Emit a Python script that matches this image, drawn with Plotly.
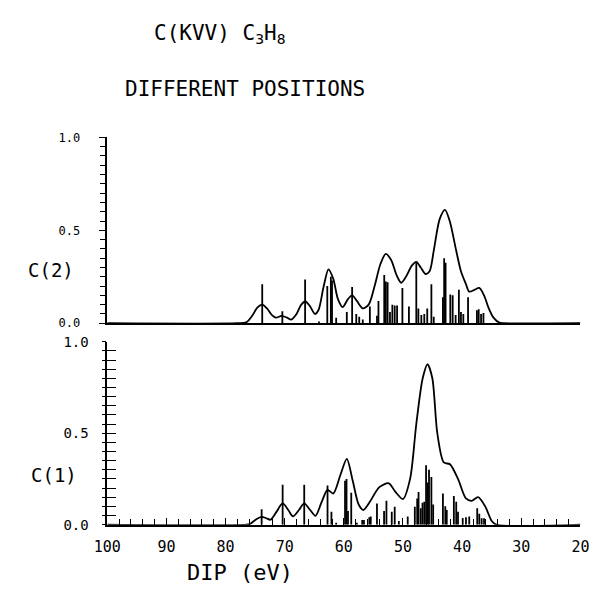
import plotly.graph_objects as go

# ---------------- data ----------------
# upper panel C(2): stick positions (eV) and heights
c2_stick_x = [73.8, 70.4, 66.55, 64.2, 62.8, 62.2, 62.0, 61.3, 59.5, 58.6, 57.9, 57.4, 56.8,
              55.6, 54.4, 54.15, 53.17, 52.9, 52.6, 52.2, 51.8, 51.4, 51.0, 50.1, 49.0,
              47.75, 47.4, 46.9, 46.4, 45.9, 45.2, 44.8, 43.25, 43.04, 42.8, 42.0, 41.6,
              41.1, 40.55, 40.2, 39.8, 39.0, 37.5, 37.2, 36.8, 36.4]
c2_stick_y = [0.21, 0.065, 0.235, 0.01, 0.20, 0.25, 0.23, 0.03, 0.06, 0.195, 0.05, 0.035, 0.02,
              0.09, 0.04, 0.12, 0.26, 0.225, 0.22, 0.06, 0.10, 0.095, 0.095, 0.19, 0.09,
              0.33, 0.08, 0.045, 0.05, 0.08, 0.21, 0.035, 0.14, 0.35, 0.325, 0.155, 0.15,
              0.045, 0.18, 0.06, 0.05, 0.14, 0.07, 0.075, 0.05, 0.055]
# upper panel broadened envelope
c2_env_x = [100, 78, 76.5, 75.5, 74.6, 73.8, 73.0, 72.2, 71.5, 70.5, 69.6, 68.9, 68.0, 67.2,
            66.5, 65.7, 64.9, 64.3, 63.4, 62.6, 61.8, 61.0, 60.2, 59.3, 58.6, 57.8, 56.8,
            55.8, 54.8, 53.8, 52.9, 52.0, 51.1, 50.3, 49.5, 48.5, 47.75, 47.0, 46.2, 45.5,
            44.8, 43.8, 42.9, 42.1, 41.0, 40.2, 39.35, 38.8, 37.9, 37.1, 36.3, 35.5, 34.7,
            33.7, 33.0, 20]
c2_env_y = [0, 0, 0.005, 0.04, 0.085, 0.10, 0.08, 0.045, 0.03, 0.04, 0.03, 0.02, 0.05, 0.10,
            0.117, 0.09, 0.05, 0.07, 0.20, 0.29, 0.24, 0.13, 0.087, 0.13, 0.15, 0.12, 0.08,
            0.10, 0.20, 0.32, 0.373, 0.34, 0.26, 0.218, 0.25, 0.31, 0.33, 0.30, 0.265, 0.28,
            0.39, 0.56, 0.61, 0.55, 0.39, 0.28, 0.21, 0.17, 0.18, 0.19, 0.15, 0.08, 0.03,
            0.003, 0, 0]

# lower panel C(1): stick positions (eV) and heights
c1_stick_x = [73.9, 70.35, 66.7, 62.76, 62.1, 61.3, 59.8, 59.55, 59.3, 58.75, 57.8, 56.9,
              56.6, 55.7, 55.45, 54.4, 53.2, 52.8, 51.9, 51.4, 50.7, 49.2, 48.0, 47.6,
              47.37, 47.0, 46.7, 46.4, 46.1, 45.8, 45.6, 45.2, 44.9, 43.25, 42.85, 42.6,
              41.4, 41.0, 40.7, 39.9, 39.35, 38.8, 37.45, 37.1, 36.7, 36.3]
c1_stick_y = [0.084, 0.218, 0.218, 0.214, 0.07, 0.01, 0.24, 0.25, 0.075, 0.175, 0.01, 0.025,
              0.025, 0.04, 0.045, 0.116, 0.075, 0.13, 0.07, 0.098, 0.02, 0.045, 0.098, 0.143,
              0.178, 0.09, 0.12, 0.125, 0.325, 0.23, 0.30, 0.26, 0.11, 0.17, 0.10, 0.08,
              0.157, 0.125, 0.07, 0.035, 0.04, 0.045, 0.09, 0.06, 0.035, 0.035]
# lower panel broadened envelope
c1_env_x = [100, 76.5, 75.8, 74.8, 73.9, 73.1, 72.4, 71.4, 70.35, 69.4, 68.6, 67.6, 66.7,
            65.7, 64.8, 63.8, 62.76, 61.8, 60.6, 59.5, 58.5, 57.5, 56.7, 55.6, 54.0, 52.4,
            51.3, 50.0, 48.8, 47.75, 46.67, 45.85, 45.04, 44.2, 43.1, 42.06, 40.7, 39.35,
            38.4, 37.3, 36.1, 35.0, 34.2, 20]
c1_env_y = [0, 0, 0.005, 0.03, 0.043, 0.035, 0.027, 0.07, 0.116, 0.08, 0.045, 0.08, 0.116,
            0.08, 0.048, 0.12, 0.19, 0.17, 0.27, 0.36, 0.24, 0.11, 0.08, 0.125, 0.205, 0.226,
            0.18, 0.14, 0.25, 0.55, 0.80, 0.877, 0.80, 0.50, 0.34, 0.33, 0.25, 0.143,
            0.13, 0.15, 0.10, 0.02, 0, 0]

x_tick_vals = [100, 90, 80, 70, 60, 50, 40, 30, 20]
x_tick_text = ["100", "90", "80", "70", "60", "50", "40", "30", "20"]
y_tick_vals = [0.0, 0.5, 1.0]
y_tick_text = ["0.0", "0.5", "1.0"]


def sticks(xs, ys):
    sx, sy = [], []
    for x, y in zip(xs, ys):
        sx += [x, x, None]
        sy += [0, y, None]
    return sx, sy


FONT = "DejaVu Sans Mono"
fig = go.Figure()

for xs, ys, ex, ey, xa, ya in [
    (c2_stick_x, c2_stick_y, c2_env_x, c2_env_y, "x", "y"),
    (c1_stick_x, c1_stick_y, c1_env_x, c1_env_y, "x2", "y2"),
]:
    sx, sy = sticks(xs, ys)
    fig.add_trace(go.Scatter(x=sx, y=sy, mode="lines", xaxis=xa, yaxis=ya,
                             line=dict(color="black", width=1.8), showlegend=False,
                             hoverinfo="skip"))
    fig.add_trace(go.Scatter(x=ex, y=ey, mode="lines", xaxis=xa, yaxis=ya,
                             line=dict(color="black", width=1.8, shape="spline", smoothing=0.8),
                             showlegend=False))
# empty trace so the tick-overlay axis is drawn
fig.add_trace(go.Scatter(x=[], y=[], xaxis="x2", yaxis="y3", showlegend=False))

XD = [97 / 600, 589 / 600]
TOP = [1 - 324 / 592, 1 - 133 / 592]
BOT = [1 - 531 / 592, 1 - 343 / 592]

fig.update_layout(
    width=600, height=592,
    margin=dict(l=0, r=0, t=0, b=0),
    paper_bgcolor="white", plot_bgcolor="white",
    font=dict(family=FONT, color="black"),
    xaxis=dict(domain=XD, anchor="y", range=[100, 20], showgrid=False, zeroline=False,
               showline=True, linecolor="black", linewidth=1.5, ticks="",
               showticklabels=False),
    yaxis=dict(domain=TOP, anchor="x", range=[0, 1], showgrid=False, zeroline=False,
               showline=True, linecolor="black", linewidth=1.5,
               tickvals=y_tick_vals, ticktext=y_tick_text, ticks="outside", ticklen=7,
               tickwidth=1.2, tickcolor="black", ticklabelstandoff=16,
               tickfont=dict(size=12, family=FONT),
               minor=dict(dtick=0.05, tick0=0, ticks="outside", ticklen=6, tickwidth=1.2,
                          tickcolor="black")),
    xaxis2=dict(domain=XD, anchor="y2", range=[100, 20], showgrid=False, zeroline=False,
                showline=True, linecolor="black", linewidth=1.5,
                tickvals=x_tick_vals, ticktext=x_tick_text, ticks="inside", ticklen=7,
                tickwidth=1.3, tickcolor="black", ticklabelstandoff=8,
                tickfont=dict(size=15, family=FONT),
                minor=dict(dtick=2, tick0=20, ticks="inside", ticklen=6, tickwidth=1.3,
                           tickcolor="black")),
    yaxis2=dict(domain=BOT, anchor="x2", range=[0, 1], showgrid=False, zeroline=False,
                showline=True, linecolor="black", linewidth=1.5,
                tickvals=y_tick_vals, ticktext=y_tick_text, ticks="outside", ticklen=4,
                tickwidth=1.2, tickcolor="black", ticklabelstandoff=10,
                tickfont=dict(size=14, family=FONT),
                minor=dict(dtick=0.05, tick0=0, ticks="outside", ticklen=4, tickwidth=1.2,
                           tickcolor="black")),
    yaxis3=dict(domain=BOT, anchor="x2", overlaying="y2", range=[0, 1], showgrid=False,
                zeroline=False, showline=False, showticklabels=False,
                tickvals=y_tick_vals, ticks="inside", ticklen=9, tickwidth=1.2,
                tickcolor="black",
                minor=dict(dtick=0.05, tick0=0, ticks="inside", ticklen=9, tickwidth=1.2,
                           tickcolor="black")),
)

def note(text, px, py, size):
    fig.add_annotation(text=text, x=px / 600, y=1 - py / 592, xref="paper", yref="paper",
                       showarrow=False, xanchor="center", yanchor="middle",
                       font=dict(family=FONT, size=size, color="black"))

note("C(KVV) C<sub>3</sub>H<sub>8</sub>", 214, 27, 21)
note("DIFFERENT POSITIONS", 240, 83, 21)
note("C(2)", 38, 269, 19)
note("C(1)", 42, 480, 19)
note("DIP (eV)", 235, 580, 22)

fig.write_html("out.html")
